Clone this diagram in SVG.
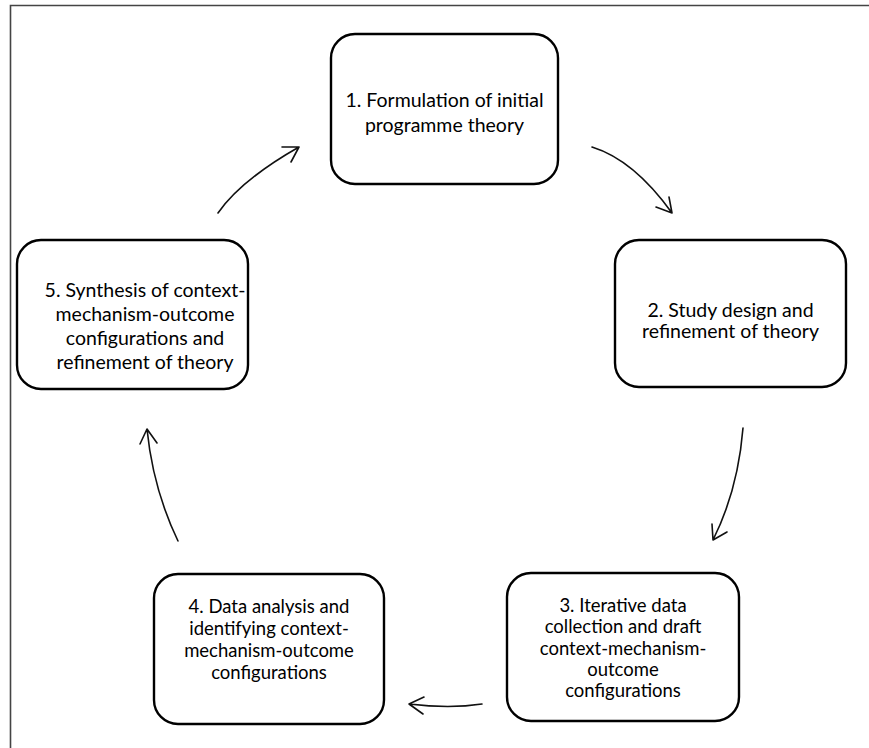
<svg xmlns="http://www.w3.org/2000/svg" width="869" height="748" viewBox="0 0 869 748">
<defs>
<style>
.frame{stroke:#444;stroke-width:1.6;fill:none}
.box{fill:#fff;stroke:#000;stroke-width:2.4}
.t{font-family:Lato,"Open Sans","Liberation Sans",sans-serif;fill:#000;text-anchor:middle}
.a{fill:none;stroke:#111;stroke-width:1.6;stroke-linecap:round;stroke-linejoin:round}
</style>
</defs>
<rect width="869" height="748" fill="#fff"/>
<path class="frame" d="M10.5 748 V5.5 H869"/>
<g id="node1">
<rect class="box" x="331" y="34" width="227" height="150" rx="24"/>
<text class="t" style="font-size:19.5px" x="444.5" y="107">1. Formulation of initial</text>
<text class="t" style="font-size:19.5px" x="444.5" y="132">programme theory</text>
</g>
<g id="node2">
<rect class="box" x="615" y="240" width="231" height="147" rx="24"/>
<text class="t" style="font-size:19.5px" x="730.5" y="317">2. Study design and</text>
<text class="t" style="font-size:19.5px" x="730.5" y="338">refinement of theory</text>
</g>
<g id="node3">
<rect class="box" x="507" y="573" width="232" height="148" rx="24"/>
<text class="t" style="font-size:18.5px" x="623" y="612">3. Iterative data</text>
<text class="t" style="font-size:18.5px" x="623" y="633">collection and draft</text>
<text class="t" style="font-size:18.5px" x="623" y="655">context-mechanism-</text>
<text class="t" style="font-size:18.5px" x="623" y="676">outcome</text>
<text class="t" style="font-size:18.5px" x="623" y="697">configurations</text>
</g>
<g id="node4">
<rect class="box" x="154" y="574" width="230" height="150" rx="24"/>
<text class="t" style="font-size:18.5px" x="269" y="613">4. Data analysis and</text>
<text class="t" style="font-size:18.5px" x="269" y="635">identifying context-</text>
<text class="t" style="font-size:18.5px" x="269" y="657">mechanism-outcome</text>
<text class="t" style="font-size:18.5px" x="269" y="679">configurations</text>
</g>
<g id="node5">
<rect class="box" x="17" y="240" width="231" height="149" rx="24"/>
<text class="t" style="font-size:19.5px" x="145" y="297">5. Synthesis of context-</text>
<text class="t" style="font-size:19.5px" x="145" y="321">mechanism-outcome</text>
<text class="t" style="font-size:19.5px" x="145" y="345">configurations and</text>
<text class="t" style="font-size:19.5px" x="145" y="369">refinement of theory</text>
</g>
<g id="connectors">
<path class="a" d="M592 147 Q634 160 672 213 M669 197 L672 213 L656 207"/>
<path class="a" d="M743 428 Q738 490 713 540 M712 524 L713 540 L727 532"/>
<path class="a" d="M482 704 Q450 709 409 704 M424 697 L409 704 L423 714"/>
<path class="a" d="M178 541 Q153 489 147 429 M140 444 L147 429 L157 443"/>
<path class="a" d="M218 213 Q241 180 299 147 M282 147 L299 147 L291 162"/>
</g>
</svg>
